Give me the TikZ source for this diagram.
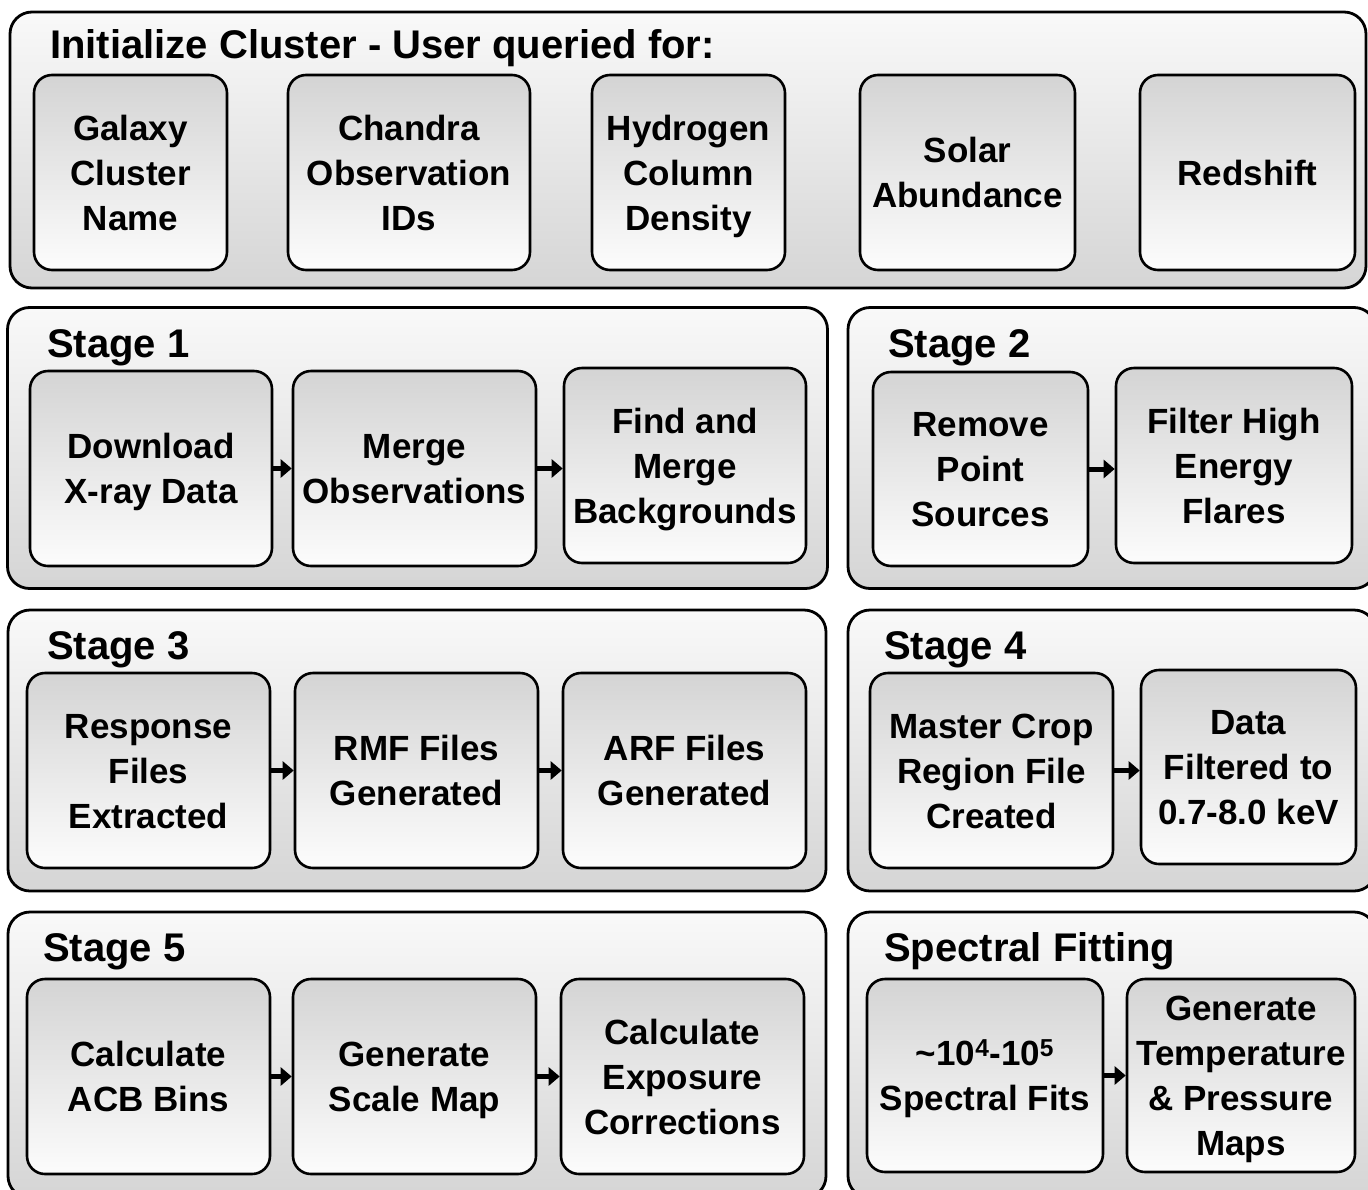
\documentclass[tikz,border=0pt]{standalone}
\usepackage{fontspec}
\setmainfont{Liberation Sans}
\usetikzlibrary{arrows.meta}
\definecolor{outtop}{HTML}{F9F9F9}
\definecolor{outbot}{HTML}{D5D5D5}
\definecolor{intop}{HTML}{D4D4D4}
\definecolor{inbot}{HTML}{FCFCFC}
\newcommand\cl[1]{\raisebox{0pt}[25.5pt][0pt]{#1}}
\begin{document}
\begin{tikzpicture}[x=1pt,y=-1pt,
  outerbox/.style={draw=black, line width=2.8pt, rounded corners=22pt, top color=outtop, bottom color=outbot, inner sep=0pt},
  innerbox/.style={draw=black, line width=2.6pt, rounded corners=18pt, top color=intop, bottom color=inbot, inner sep=0pt, align=center, font=\fontsize{35}{45}\selectfont\bfseries, minimum height=195pt},
  titletext/.style={anchor=base west, inner sep=0pt, font=\fontsize{40}{45}\selectfont\bfseries},
  arr/.style={line width=5pt, -{Triangle[length=11pt,width=18pt]}}
]
\useasboundingbox (0,0) rectangle (1368,1189);
\clip (0,0) rectangle (1368,1189);

% outer boxes
\node[outerbox, minimum width=1356pt, minimum height=276pt] (init) at (688,150) {};
\node[outerbox, minimum width=820pt, minimum height=281pt] (s1) at (417.5,448) {};
\node[outerbox, minimum width=528pt, minimum height=281pt] (s2) at (1112,448) {};
\node[outerbox, minimum width=818pt, minimum height=281pt] (s3) at (417,750.5) {};
\node[outerbox, minimum width=528pt, minimum height=281pt] (s4) at (1112,750.5) {};
\node[outerbox, minimum width=818pt, minimum height=286pt] (s5) at (417,1055) {};
\node[outerbox, minimum width=528pt, minimum height=286pt] (sf) at (1112,1055) {};

% titles
\node[titletext] (tinit) at (50,58) {Initialize Cluster - User queried for:};
\node[titletext] (t1) at (47,357) {Stage 1};
\node[titletext] (t2) at (888,357) {Stage 2};
\node[titletext] (t3) at (47,659) {Stage 3};
\node[titletext] (t4) at (884,659) {Stage 4};
\node[titletext] (t5) at (43,961) {Stage 5};
\node[titletext] (tsf) at (884,961) {Spectral Fitting};

% init row
\node[innerbox, minimum width=193pt] (galaxy) at (130.5,172.5) {\cl{Galaxy}\\\cl{Cluster}\\\cl{Name}};
\node[innerbox, minimum width=242pt] (chandra) at (409,172.5) {\cl{Chandra}\\\cl{Observation}\\\cl{IDs}};
\node[innerbox, minimum width=193pt] (hydrogen) at (688.5,172.5) {\cl{Hydrogen}\\\cl{Column}\\\cl{Density}};
\node[innerbox, minimum width=215pt] (solar) at (967.5,172.5) {\cl{Solar}\\\cl{Abundance}};
\node[innerbox, minimum width=215pt] (redshift) at (1247.5,172.5) {\cl{Redshift}};

% stage 1
\node[innerbox, minimum width=242pt] (download) at (151,468.5) {\cl{Download}\\\cl{X-ray Data}};
\node[innerbox, minimum width=243pt] (merge) at (414.5,468.5) {\cl{Merge}\\\cl{Observations}};
\node[innerbox, minimum width=242pt] (find) at (685,465.5) {\cl{Find and}\\\cl{Merge}\\\cl{Backgrounds}};
% stage 2
\node[innerbox, minimum width=215pt, minimum height=194pt] (remove) at (980.5,469) {\cl{Remove}\\\cl{Point}\\\cl{Sources}};
\node[innerbox, minimum width=236pt] (filter) at (1234,465.5) {\cl{Filter High}\\\cl{Energy}\\\cl{Flares}};

% stage 3
\node[innerbox, minimum width=243pt] (response) at (148.5,770.5) {\cl{Response}\\\cl{Files}\\\cl{Extracted}};
\node[innerbox, minimum width=243pt] (rmf) at (416.5,770.5) {\cl{RMF Files}\\\cl{Generated}};
\node[innerbox, minimum width=243pt] (arf) at (684.5,770.5) {\cl{ARF Files}\\\cl{Generated}};
% stage 4
\node[innerbox, minimum width=243pt] (master) at (991.5,770.5) {\cl{Master Crop}\\\cl{Region File}\\\cl{Created}};
\node[innerbox, minimum width=215pt, minimum height=194pt] (data) at (1248.5,767) {\cl{Data}\\\cl{Filtered to}\\\cl{0.7-8.0 keV}};

% stage 5
\node[innerbox, minimum width=243pt] (acb) at (148.5,1076.5) {\cl{Calculate}\\\cl{ACB Bins}};
\node[innerbox, minimum width=243pt] (scale) at (414.5,1076.5) {\cl{Generate}\\\cl{Scale Map}};
\node[innerbox, minimum width=243pt] (exposure) at (682.5,1076.5) {\cl{Calculate}\\\cl{Exposure}\\\cl{Corrections}};
% spectral fitting
\node[innerbox, minimum width=236pt, minimum height=193pt] (fits) at (985,1075.5) {\cl{\textasciitilde10\textsuperscript{4}-10\textsuperscript{5}}\\\cl{Spectral Fits}};
\node[innerbox, minimum width=228pt, minimum height=193pt] (maps) at (1241,1075.5) {\cl{Generate}\\\cl{Temperature}\\\cl{\& Pressure}\\\cl{Maps}};

% arrows
\draw[arr] (download.east) -- (download.east -| merge.west);
\draw[arr] (merge.east) -- (merge.east -| find.west);
\draw[arr] (remove.east) -- (remove.east -| filter.west);
\draw[arr] (response.east) -- (response.east -| rmf.west);
\draw[arr] (rmf.east) -- (rmf.east -| arf.west);
\draw[arr] (master.east) -- (master.east -| data.west);
\draw[arr] (acb.east) -- (acb.east -| scale.west);
\draw[arr] (scale.east) -- (scale.east -| exposure.west);
\draw[arr] (fits.east) -- (fits.east -| maps.west);
\end{tikzpicture}
\end{document}
